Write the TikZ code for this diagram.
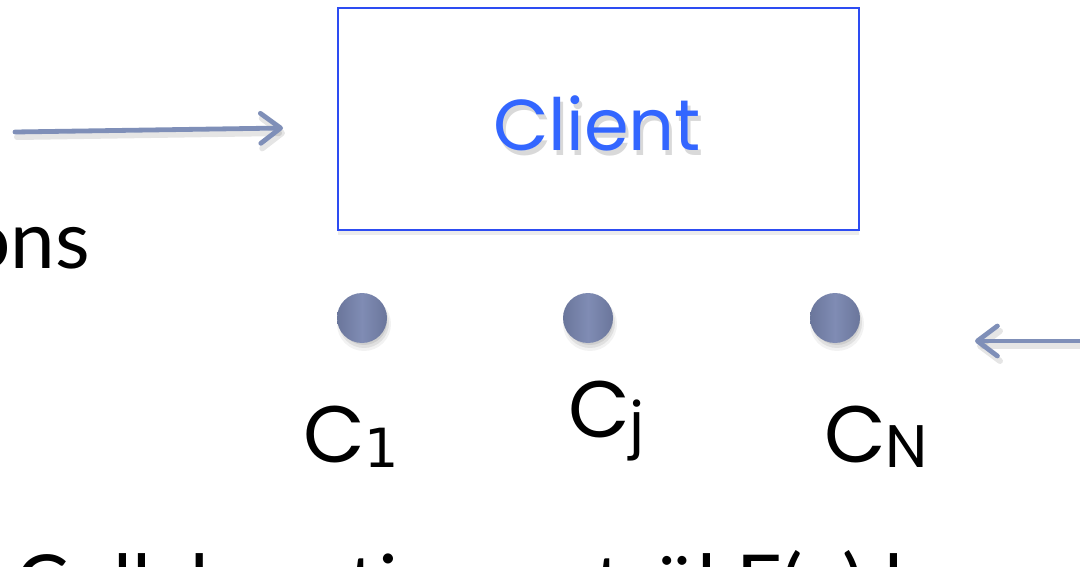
\documentclass[tikz,border=0pt]{standalone}
\usepackage{fontspec}
\setmainfont{Lato}
\newfontfamily\comicfont{Poppins}
\newfontfamily\digitfont{DejaVu Sans}
\usetikzlibrary{arrows.meta,shadows}
\definecolor{arrowc}{HTML}{7F8FB8}
\definecolor{clientblue}{HTML}{3366FF}
\definecolor{boxblue}{HTML}{2D4CF2}
\definecolor{dotc}{HTML}{7986B0}
\begin{document}
\begin{tikzpicture}[x=1pt,y=-1pt,
  conn/.style={line width=4.8pt, draw=arrowc, line cap=round,
    -{Straight Barb[length=20pt,width=30pt,line width=4.8pt,round]}},
  connshadow/.style={line width=6pt, draw=black, opacity=0.10, line cap=round,
    -{Straight Barb[length=20pt,width=30pt,line width=6pt,round]}},
  clientbox/.style={draw=boxblue, line width=1.6pt, fill=white,
    minimum width=521pt, minimum height=222pt, inner sep=0pt,
    drop shadow={shadow xshift=0pt, shadow yshift=-5pt, opacity=0.15}},
  ballnode/.style={circle, minimum size=50pt, inner sep=0pt,
    shading=axis, left color=dotc!88!black, right color=dotc!88!black, middle color=dotc!95!white},
  ballshadow/.style={circle, inner sep=0pt, fill=black},
  clabel/.style={inner sep=0pt, anchor=base west, font=\comicfont\fontsize{80}{80}\selectfont},
  bigtext/.style={inner sep=0pt, font=\fontsize{80}{80}\selectfont}]
\useasboundingbox (0,0) rectangle (1080,567);
\fill[white] (0,0) rectangle (1080,567);
\begin{scope}
\clip (0,0) rectangle (1080,567);
% client box
\node[clientbox] (client) at (598.5,119) {};
\node[inner sep=0pt, text=black, opacity=0.15, font=\comicfont\fontsize{72}{72}\selectfont] at (600,128) {Client};
\node[inner sep=0pt, text=clientblue, font=\comicfont\fontsize{72}{72}\selectfont] (clienttext) at (597,123) {Client};
% arrows
\coordinate (a1s) at (15,132);
\coordinate (a1e) at (283,128);
\coordinate (a2s) at (1090,341);
\coordinate (a2e) at (975,341);
\draw[connshadow] ([shift={(2,5)}]a1s) -- ([shift={(2,5)}]a1e);
\draw[conn] (a1s) -- (a1e);
\draw[connshadow] ([shift={(2,5)}]a2s) -- ([shift={(2,5)}]a2e);
\draw[conn] (a2s) -- (a2e);
% ball shadows (soft)
\foreach \x in {364,590,837}{
  \node[ballshadow, minimum size=54pt, opacity=0.05] at (\x,324) {};
  \node[ballshadow, minimum size=50pt, opacity=0.07] at (\x,323) {};
  \node[ballshadow, minimum size=46pt, opacity=0.08] at (\x,322) {};
}
\node[ballnode] (b1) at (362,318) {};
\node[ballnode] (bj) at (588,318) {};
\node[ballnode] (bn) at (835,318) {};
% labels
\node[clabel] (l1) at (303,462) {C\raisebox{-5pt}{\digitfont\fontsize{54}{54}\selectfont 1}};
\node[clabel] (lj) at (568,437) {C\raisebox{-8pt}{\fontsize{60}{60}\selectfont j}};
\node[clabel] (ln) at (824,462) {C\raisebox{-5pt}{\fontsize{60}{60}\selectfont N}};
% texts
\node[bigtext, anchor=base east] (ons) at (90,268) {ons};
\node[bigtext, anchor=base west] (bottom) at (15,612) {Collaboration entrül F(x) les};
\end{scope}
\end{tikzpicture}
\end{document}
